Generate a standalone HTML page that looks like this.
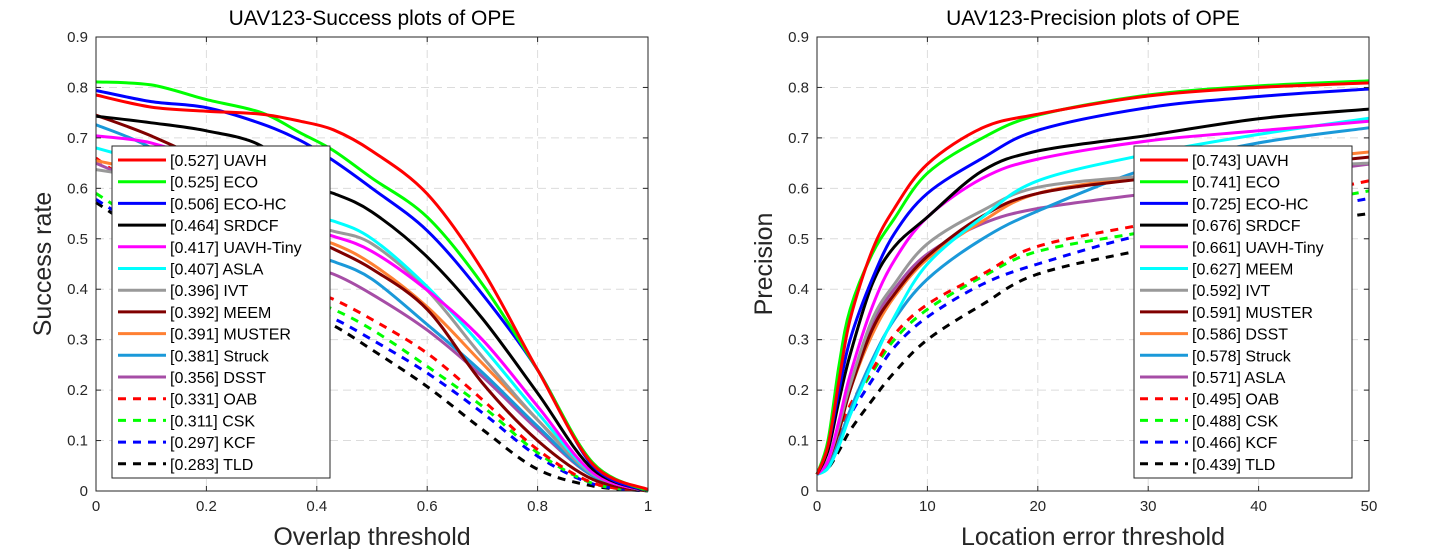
<!DOCTYPE html>
<html><head><meta charset="utf-8"><style>
body{margin:0;background:#fff;}
svg{display:block;font-family:"Liberation Sans",sans-serif;}
</style></head><body>
<svg id="c" width="1441" height="549"></svg>
<script>
const succX=[0,0.1,0.2,0.3,0.37,0.43,0.5,0.6,0.7,0.8,0.9,1];
const succNames=["UAVH","ECO","ECO-HC","SRDCF","UAVH-Tiny","ASLA","IVT","MEEM","MUSTER","Struck","DSST","OAB","CSK","KCF","TLD"];
const succScores=["0.527","0.525","0.506","0.464","0.417","0.407","0.396","0.392","0.391","0.381","0.356","0.331","0.311","0.297","0.283"];
const sUAVH=[.785,.761,.753,.747,.733,.716,.674,.589,.438,.24,.053,.003];
const sECO=[.811,.805,.776,.75,.71,.675,.62,.543,.41,.24,.056,0];
const sECOHC=[.794,.772,.76,.728,.695,.655,.60,.516,.39,.24,.05,0];
const sSRDCF=[.743,.73,.714,.684,.609,.59,.553,.464,.342,.194,.043,0];
const sTiny=[.704,.69,.65,.585,.523,.505,.475,.398,.30,.168,.036,0];
const sASLA=[.68,.65,.62,.585,.547,.535,.5,.405,.286,.155,.035,0];
const sIVT=[.637,.62,.6,.565,.53,.515,.49,.398,.266,.141,.033,0];
const sMEEM=[.745,.704,.65,.57,.51,.48,.44,.36,.214,.10,.023,0];
const sMUSTER=[.655,.63,.59,.545,.507,.49,.45,.365,.253,.141,.036,0];
const sStruck=[.726,.68,.6,.53,.475,.455,.42,.33,.235,.128,.03,0];
const sDSST=[.65,.6,.54,.49,.446,.43,.39,.319,.227,.122,.03,0];
const sOAB=[.66,.58,.5,.44,.405,.38,.34,.273,.181,.082,.016,0];
const sCSK=[.59,.52,.46,.41,.383,.36,.32,.247,.168,.076,.015,0];
const sKCF=[.578,.51,.45,.395,.365,.342,.30,.234,.155,.069,.014,0];
const sTLD=[.572,.5,.44,.385,.355,.328,.28,.207,.122,.043,.01,0];
const succSeries=[sUAVH,sECO,sECOHC,sSRDCF,sTiny,sASLA,sIVT,sMEEM,sMUSTER,sStruck,sDSST,sOAB,sCSK,sKCF,sTLD];
const succColors=["#ff0000","#00ff00","#0000ff","#000000","#ff00ff","#00ffff","#999999","#800000","#ff8033","#1a99d9","#a64da6","#ff0000","#00ff00","#0000ff","#000000"];

const precX=[0,1,2,3,5,7,10,15,20,30,40,50];
const precNames=["UAVH","ECO","ECO-HC","SRDCF","UAVH-Tiny","MEEM","IVT","MUSTER","DSST","Struck","ASLA","OAB","CSK","KCF","TLD"];
const precScores=["0.743","0.741","0.725","0.676","0.661","0.627","0.592","0.591","0.586","0.578","0.571","0.495","0.488","0.466","0.439"];
const pUAVH=[.033,.09,.22,.34,.477,.56,.648,.72,.747,.783,.80,.809];
const pECO=[.033,.1,.25,.36,.47,.54,.63,.70,.745,.785,.803,.813];
const pECOHC=[.033,.09,.2,.3,.42,.51,.59,.66,.715,.76,.782,.797];
const pSRDCF=[.033,.08,.18,.27,.41,.484,.543,.635,.674,.705,.738,.757];
const pTiny=[.033,.06,.14,.23,.365,.457,.543,.62,.658,.694,.714,.733];
const pMEEM=[.033,.045,.09,.15,.253,.345,.45,.543,.615,.668,.707,.739];
const pIVT=[.033,.06,.13,.21,.34,.41,.49,.556,.602,.625,.64,.65];
const pMUSTER=[.033,.06,.12,.2,.32,.39,.465,.545,.59,.62,.64,.662];
const pDSST=[.033,.06,.12,.2,.31,.385,.46,.535,.59,.625,.65,.672];
const pStruck=[.033,.05,.1,.16,.26,.34,.42,.5,.555,.64,.69,.72];
const pASLA=[.033,.06,.13,.21,.33,.40,.47,.53,.56,.59,.62,.648];
const pOAB=[.033,.06,.11,.17,.24,.31,.37,.43,.485,.53,.57,.615];
const pCSK=[.033,.055,.105,.165,.235,.30,.36,.425,.475,.515,.555,.595];
const pKCF=[.033,.05,.095,.15,.22,.285,.345,.41,.45,.51,.54,.58];
const pTLD=[.033,.045,.08,.12,.18,.235,.30,.37,.43,.48,.52,.55];
const precSeries=[pUAVH,pECO,pECOHC,pSRDCF,pTiny,pMEEM,pIVT,pMUSTER,pDSST,pStruck,pASLA,pOAB,pCSK,pKCF,pTLD];
const precColors=["#ff0000","#00ff00","#0000ff","#000000","#ff00ff","#00ffff","#999999","#800000","#ff8033","#1a99d9","#a64da6","#ff0000","#00ff00","#0000ff","#000000"];

const yTicks=[0,0.1,0.2,0.3,0.4,0.5,0.6,0.7,0.8,0.9];
const succXTicks=[0,0.2,0.4,0.6,0.8,1];
const precXTicks=[0,10,20,30,40,50];

const NS="http://www.w3.org/2000/svg";
const svg=document.getElementById('c');
function mk(tag,attrs,parent){const e=document.createElementNS(NS,tag);for(const k in attrs)e.setAttribute(k,attrs[k]);(parent||svg).appendChild(e);return e;}
function smooth(pts){let d="M"+pts[0][0]+","+pts[0][1];for(let i=0;i<pts.length-1;i++){const p0=pts[Math.max(0,i-1)],p1=pts[i],p2=pts[i+1],p3=pts[Math.min(pts.length-1,i+2)];const c1=[p1[0]+(p2[0]-p0[0])/6,p1[1]+(p2[1]-p0[1])/6],c2=[p2[0]-(p3[0]-p1[0])/6,p2[1]-(p3[1]-p1[1])/6];d+=" C"+c1[0].toFixed(1)+","+c1[1].toFixed(1)+" "+c2[0].toFixed(1)+","+c2[1].toFixed(1)+" "+p2[0].toFixed(1)+","+p2[1].toFixed(1);}return d;}

function panel(o){
  const g=mk('g',{});
  
  
  const L=o.left,R=o.left+552,T=37,B=491;
  const xs=v=>L+(v-o.xmin)/(o.xmax-o.xmin)*(R-L);
  const ys=v=>B-v/0.9*(B-T);
  o.xTicks.forEach(t=>{const x=xs(t);if(x>L+1&&x<R-1){const l=mk('line',{x1:x,y1:T,x2:x,y2:B,stroke:'#dcdcdc','stroke-dasharray':'8,5'},g);}});
  yTicks.forEach(t=>{const y=ys(t);if(y>T+1&&y<B-1){const l=mk('line',{x1:L,y1:y,x2:R,y2:y,stroke:'#dcdcdc','stroke-dasharray':'8,5'},g);}});
  for(let i=o.series.length-1;i>=0;i--){
    const pts=o.series[i].map((v,j)=>[xs(o.x[j]),ys(v)]);
    const p=mk('path',{d:smooth(pts),fill:'none',stroke:o.colors[i],'stroke-width':3,'stroke-dasharray':i>=11?'8,7':'none','stroke-linejoin':'round'},g);
    
    
  }
  const bx=mk('rect',{x:L,y:T,width:R-L,height:B-T,fill:'none',stroke:'#262626','stroke-width':1},g);
  
  o.xTicks.forEach(t=>{const x=xs(t);mk('line',{x1:x,y1:B,x2:x,y2:B-5,stroke:'#262626'},g);mk('line',{x1:x,y1:T,x2:x,y2:T+5,stroke:'#262626'},g);
    const tx=mk('text',{x:x,y:B+20,'font-size':15,'text-anchor':'middle',fill:'#262626'},g);tx.textContent=String(t);
    });
  yTicks.forEach(t=>{const y=ys(t);mk('line',{x1:L,y1:y,x2:L+5,y2:y,stroke:'#262626'},g);mk('line',{x1:R,y1:y,x2:R-5,y2:y,stroke:'#262626'},g);
    const tx=mk('text',{x:L-8,y:y+5,'font-size':15,'text-anchor':'end',fill:'#262626'},g);tx.textContent=t===0?'0':String(t);
    });
  const ti=mk('text',{x:(L+R)/2,y:25,'font-size':21,'text-anchor':'middle',fill:'#000'},g);ti.textContent=o.title;
  
  const xl=mk('text',{x:(L+R)/2,y:545,'font-size':25,'text-anchor':'middle',fill:'#262626'},g);xl.textContent=o.xlabel;
  
  const yl=mk('text',{x:0,y:0,'font-size':25,'text-anchor':'middle',fill:'#262626',transform:'translate('+(L-45)+','+((T+B)/2)+') rotate(-90)'},g);yl.textContent=o.ylabel;
  
  const lg=mk('g',{},g);
  
  mk('rect',{x:o.lx,y:146,width:218,height:332,fill:'#fff',stroke:'#262626','stroke-width':1},lg);
  o.names.forEach((n,i)=>{const y=160+i*21.7;
    const ln=mk('line',{x1:o.lx+6,y1:y,x2:o.lx+54,y2:y,stroke:o.colors[i],'stroke-width':3,'stroke-dasharray':i>=11?'8,7':'none'},lg);
    
    const tx=mk('text',{x:o.lx+58,y:y+6,'font-size':16,fill:'#000'},lg);tx.textContent='['+o.scores[i]+'] '+n;
    });
}
panel({id:'success',left:96,xmin:0,xmax:1,x:succX,series:succSeries,colors:succColors,names:succNames,scores:succScores,xTicks:succXTicks,title:'UAV123-Success plots of OPE',xlabel:'Overlap threshold',ylabel:'Success rate',lx:112});
panel({id:'precision',left:817,xmin:0,xmax:50,x:precX,series:precSeries,colors:precColors,names:precNames,scores:precScores,xTicks:precXTicks,title:'UAV123-Precision plots of OPE',xlabel:'Location error threshold',ylabel:'Precision',lx:1134});
</script>
</body></html>
